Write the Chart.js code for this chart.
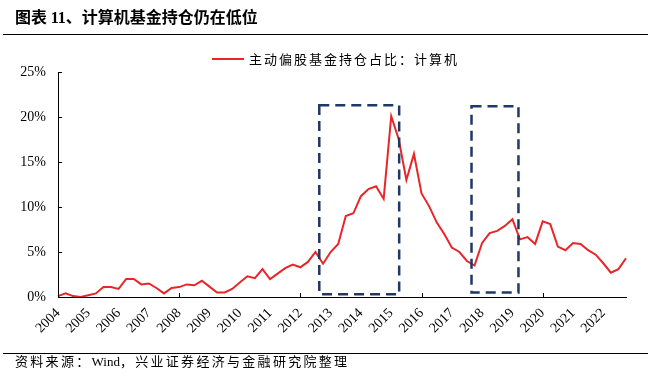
<!DOCTYPE html>
<html>
<head>
<meta charset="utf-8">
<script src="https://cdn.jsdelivr.net/npm/chart.js@4.4.1/dist/chart.umd.min.js"></script>
<style>
    body { margin: 0; background: #fff; width: 653px; height: 382px; overflow: hidden; position: relative; }
    #title { position: absolute; left: 15px; top: 4px; font: bold 16px "Noto Sans CJK SC"; color: #000; white-space: nowrap; }
    #title .num { font-family: "Liberation Serif"; }
    .rule { position: absolute; left: 3px; width: 645px; height: 1px; background: #000; }
    #footer { position: absolute; left: 15px; top: 351px; font: 13px "Noto Sans CJK SC"; letter-spacing: 2.3px; color: #000; white-space: nowrap; }
    #footer .lat { font-family: "Liberation Serif"; letter-spacing: 0; }
    #legend { position: absolute; left: 212px; top: 49px; font: 13px "Noto Sans CJK SC"; letter-spacing: 2px; color: #000; white-space: nowrap; }
    #legend .swatch { display: inline-block; width: 32px; height: 2px; background: #E8262A; vertical-align: middle; margin-right: 5px; position: relative; top: -1px; }
    #wrap { position: absolute; left: 0; top: 0; width: 653px; height: 382px; }
</style>
</head>
<body>
<div id="wrap"><canvas id="chart" width="653" height="382"></canvas></div>
<div id="title">图表 <span class="num">11</span>、计算机基金持仓仍在低位</div>
<div class="rule" style="top:34px"></div>
<div id="legend"><span class="swatch"></span>主动偏股基金持仓占比：计算机</div>
<div class="rule" style="top:353px"></div>
<div id="footer">资料来源：<span class="lat">Wind</span>，兴业证券经济与金融研究院整理</div>
<script>
const years = [2004, 2005, 2006, 2007, 2008, 2009, 2010, 2011, 2012, 2013,
    2014, 2015, 2016, 2017, 2018, 2019, 2020, 2021, 2022]
const quarters = ['Q1', 'Q2', 'Q3', 'Q4']

// 主动偏股基金持仓占比：计算机 (%), quarterly 2004Q1 - 2022Q4
const holdings = [
    0.1, 0.4, 0.1, 0.0,
    0.2, 0.4, 1.1, 1.1,
    0.9, 2.0, 2.0, 1.4,
    1.5, 1.0, 0.4, 1.0,
    1.1, 1.4, 1.3, 1.8,
    1.15, 0.5, 0.5, 0.9,
    1.6, 2.3, 2.1, 3.1,
    2.0, 2.6, 3.2, 3.6,
    3.3, 3.9, 5.0, 3.7,
    5.0, 5.9, 9.0, 9.3,
    11.2, 12.0, 12.3, 10.9,
    20.1, 17.5, 13.0, 15.9,
    11.5, 10.1, 8.3, 7.0,
    5.5, 5.0, 4.0, 3.5,
    6.0, 7.1, 7.35, 7.9,
    8.65, 6.4, 6.65, 5.9,
    8.4, 8.1, 5.6, 5.2,
    6.0, 5.9, 5.2, 4.7,
    3.75, 2.7, 3.1, 4.3
]

// highlighted periods, in category index / percent units
const highlightBoxes = [
    { from: 34.5, to: 45.05, top: 21.3, bottom: 0.3 },
    { from: 54.6, to: 60.8, top: 21.2, bottom: 0.5 }
]

const labels = []
years.forEach(y => quarters.forEach(q => labels.push(y + q)))

// inward tick marks + dashed boxes
const decorPlugin = {
    id: 'decor',
    afterDraw(chart) {
        const ctx = chart.ctx
        const x = chart.scales.x
        const y = chart.scales.y
        const area = chart.chartArea

        ctx.save()
        ctx.strokeStyle = '#000'
        ctx.lineWidth = 1
        ctx.beginPath()
        x.ticks.forEach((t, i) => {
            if (i % 4 !== 0) return
            const px = Math.round(x.getPixelForTick(i)) + 0.5
            ctx.moveTo(px, area.bottom)
            ctx.lineTo(px, area.bottom - 4)
        })
        y.ticks.forEach((t, i) => {
            const py = Math.round(y.getPixelForTick(i)) + 0.5
            ctx.moveTo(area.left, py)
            ctx.lineTo(area.left + 4, py)
        })
        ctx.stroke()

        ctx.strokeStyle = '#1F3864'
        ctx.lineWidth = 2.5
        ctx.setLineDash([10, 6])
        highlightBoxes.forEach(b => {
            const x1 = x.getPixelForValue(b.from)
            const x2 = x.getPixelForValue(b.to)
            const y1 = y.getPixelForValue(b.top)
            const y2 = y.getPixelForValue(b.bottom)
            ctx.strokeRect(x1, y1, x2 - x1, y2 - y1)
        })
        ctx.restore()
    }
}

new Chart(document.querySelector('#chart'), {
    type: 'line',
    data: {
        labels: labels,
        datasets: [{
            label: '主动偏股基金持仓占比：计算机',
            data: holdings,
            borderColor: '#E8262A',
            borderWidth: 2,
            pointRadius: 0,
            tension: 0,
            fill: false
        }]
    },
    options: {
        responsive: false,
        animation: false,
        devicePixelRatio: 1,
        layout: {
            padding: { left: 0, right: 27, top: 72, bottom: 40 }
        },
        plugins: {
            legend: { display: false },
            tooltip: { enabled: false }
        },
        scales: {
            x: {
                type: 'category',
                offset: false,
                afterFit: scale => { scale.height = 45 },
                grid: { display: false, drawTicks: false },
                border: { display: true, color: '#000', width: 1 },
                ticks: {
                    autoSkip: false,
                    maxRotation: 45,
                    minRotation: 45,
                    padding: 8,
                    color: '#000',
                    font: { family: 'Liberation Serif', size: 14 },
                    callback: (v, i) => i % 4 === 0 ? labels[i].slice(0, 4) : null
                }
            },
            y: {
                min: 0,
                max: 25,
                afterFit: scale => { scale.width = 58 },
                grid: { display: false, drawTicks: false },
                border: { display: true, color: '#000', width: 1 },
                ticks: {
                    stepSize: 5,
                    padding: 12,
                    color: '#000',
                    font: { family: 'Liberation Serif', size: 14 },
                    callback: v => v + '%'
                }
            }
        }
    },
    plugins: [decorPlugin]
})
</script>
</body>
</html>
